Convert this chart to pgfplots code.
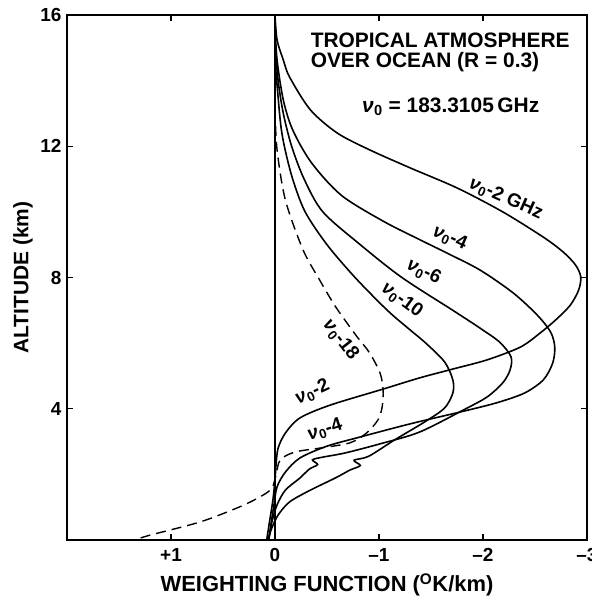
\documentclass[border=0pt]{standalone}
\usepackage{fontspec}
\setmainfont{Liberation Sans}
\usepackage{pgfplots}
\pgfplotsset{compat=1.18}

% nu-zero symbol used in all curve labels
\newcommand{\nuo}{{\itshape ν}\kern0.3pt\textsubscript{0}}
\newcommand{\lblfont}{\bfseries\fontsize{19}{21}\selectfont}
\newcommand{\txtfont}{\bfseries\fontsize{21}{24}\selectfont}

% style of one weighting-function curve
\pgfplotsset{wf/.style={black, solid, mark=none, line width=1.6bp, smooth, tension=0.5}}

\begin{document}
\begin{tikzpicture}
\begin{axis}[
  at={(0,0)}, anchor=south west,
  scale only axis, width=520bp, height=525bp,
  xmin=-3, xmax=2, ymin=0, ymax=16,
  x dir=reverse,
  axis line style={line width=2bp},
  xtick={1,0,-1,-2,-3}, xticklabels={+1,0,–1,–2,–3},
  ytick={4,8,12,16}, yticklabels={4,8,12,16},
  tick align=inside, major tick length=6bp,
  tick style={line width=1.2bp, black},
  x tick label style={font=\lblfont, yshift=-5bp},
  y tick label style={font=\lblfont, xshift=-2bp},
  xlabel={WEIGHTING FUNCTION (\textsuperscript{O}K/km)},
  ylabel={ALTITUDE (km)},
  xlabel style={font=\bfseries\fontsize{22}{24}\selectfont, at={(axis description cs:0.5,-0.0857)}, anchor=center},
  ylabel style={font=\txtfont, at={(axis description cs:-0.0846,0.5)}, anchor=center},
]

% zero line
\addplot[black, mark=none, line width=1.3bp] coordinates {(0,0) (0,16)};

% nu0 - 2 GHz
\addplot[wf] coordinates {
(0,16.0) (-0.02,15.24) (-0.08,14.63) (-0.14,14.11) (-0.34,13.11) (-0.60,12.40)
(-0.91,11.89) (-1.30,11.34) (-1.75,10.73) (-2.19,10.00) (-2.58,9.23) (-2.77,8.78)
(-2.89,8.38) (-2.94,8.02) (-2.92,7.62) (-2.84,7.16) (-2.70,6.71) (-2.55,6.31)
(-2.36,5.88) (-2.04,5.49) (-1.71,5.21) (-1.39,4.94) (-1.04,4.60) (-0.53,4.11)
(-0.24,3.72) (-0.10,3.26) (-0.03,2.80) (-0.01,2.29) (0.0,1.83) (0.02,1.22)
(0.05,0.61) (0.08,0)};

% nu0 - 4 GHz
\addplot[wf] coordinates {
(0,15.70) (-0.02,14.63) (-0.08,13.41) (-0.17,12.50) (-0.35,11.50) (-0.64,10.50)
(-1.05,9.70) (-1.40,9.14) (-1.65,8.75) (-1.97,8.23) (-2.29,7.53) (-2.52,6.86)
(-2.65,6.34) (-2.69,5.88) (-2.67,5.39) (-2.58,4.88) (-2.40,4.48) (-2.13,4.18)
(-1.78,3.90) (-1.30,3.54) (-0.82,3.14) (-0.50,2.86) (-0.24,2.50) (-0.10,2.07)
(-0.02,1.62) (0.01,1.07) (0.04,0.46) (0.06,0)};

% nu0 - 6 GHz
\addplot[wf] coordinates {
(0,15.09) (-0.03,14.00) (-0.08,13.00) (-0.16,12.00) (-0.28,11.00) (-0.46,10.00)
(-0.82,9.00) (-1.22,8.00) (-1.71,7.00) (-1.97,6.46) (-2.16,6.03)
(-2.27,5.58) (-2.26,5.18) (-2.19,4.79) (-2.04,4.36) (-1.81,3.96) (-1.39,3.29)
(-1.01,2.93) (-0.67,2.65) (-0.45,2.52) (-0.36,2.44) (-0.41,2.30) (-0.33,2.16)
(-0.24,1.89) (-0.10,1.52) (-0.02,1.07) (0.03,0.55) (0.06,0)};

% nu0 - 10 GHz
\addplot[wf] coordinates {
(0,14.63) (-0.05,12.80) (-0.09,12.00) (-0.17,11.00) (-0.29,10.00) (-0.50,9.00)
(-0.77,8.00) (-1.08,7.00) (-1.30,6.40) (-1.45,6.00) (-1.63,5.43) (-1.71,4.88) (-1.71,4.48)
(-1.63,4.02) (-1.44,3.60) (-1.15,3.05) (-0.90,2.55) (-0.76,2.43) (-0.82,2.27)
(-0.72,2.13) (-0.58,1.89) (-0.34,1.52) (-0.14,1.16) (-0.03,0.76) (0.03,0.37)
(0.07,0)};

% nu0 - 18 GHz
\addplot[wf, line width=1.4bp, dash pattern=on 10bp off 6bp] coordinates {
(0,13.11) (-0.02,11.89) (-0.10,10.36) (-0.27,8.84) (-0.43,7.92) (-0.56,7.22)
(-0.65,6.80) (-0.79,6.19) (-0.91,5.70) (-1.01,5.09) (-1.04,4.57) (-1.03,4.05)
(-0.99,3.66) (-0.88,3.26) (-0.72,2.96) (-0.43,2.80) (-0.19,2.68) (-0.05,2.44)
(-0.01,1.98) (0.03,1.58) (0.13,1.34) (0.34,1.01) (0.72,0.55) (1.20,0.15)
(1.35,0)};

% annotations
\node[font=\txtfont, anchor=west] at (axis cs:-0.31,15.24) {TROPICAL ATMOSPHERE};
\node[font=\txtfont, anchor=west] at (axis cs:-0.31,14.57) {OVER OCEAN (R = 0.3)};
\node[font=\txtfont] at (axis cs:-1.69,13.20) {\nuo\ = 183.3105\,GHz};

\node[font=\lblfont, rotate=-24] at (axis cs:-2.22,10.40) {\nuo-2 GHz};
\node[font=\lblfont, rotate=-24] at (axis cs:-1.68,9.20) {\nuo-4};
\node[font=\lblfont, rotate=-26] at (axis cs:-1.43,8.17) {\nuo-6};
\node[font=\lblfont, rotate=-36] at (axis cs:-1.22,7.30) {\nuo-10};
\node[font=\lblfont, rotate=-52] at (axis cs:-0.63,6.10) {\nuo-18};
\node[font=\lblfont, rotate=25] at (axis cs:-0.36,4.50) {\nuo-2};
\node[font=\lblfont, rotate=18] at (axis cs:-0.48,3.35) {\nuo-4};
\end{axis}
\pgfresetboundingbox
\path[use as bounding box] (-67bp,-60bp) rectangle (525bp,540bp);
\end{tikzpicture}
\end{document}
